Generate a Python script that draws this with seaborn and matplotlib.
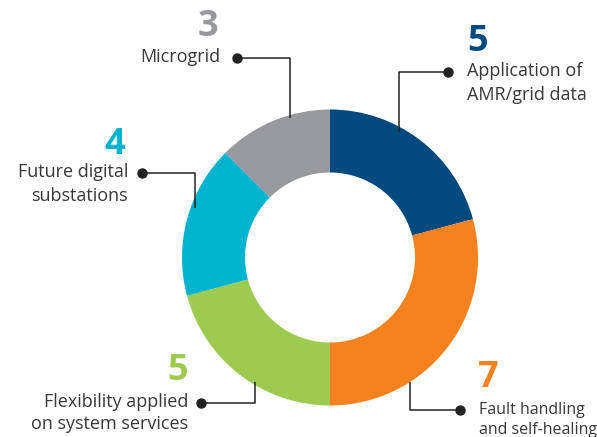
import matplotlib
matplotlib.use("Agg")
import matplotlib.pyplot as plt
import seaborn as sns

sns.set_theme(style="white")
plt.rcParams['font.family'] = ['Open Sans', 'DejaVu Sans']

# data, clockwise from 12 o'clock
labels = ["Application of\nAMR/grid data", "Fault handling\nand self-healing",
          "Flexibility applied\non system services", "Future digital\nsubstations", "Microgrid"]
values = [5, 7, 5, 4, 3]
colors = ["#004a80", "#f5821f", "#9dcb4f", "#00b4d0", "#98999c"]

W, H = 597, 437
fig = plt.figure(figsize=(W / 100, H / 100), dpi=100)
ax = fig.add_axes([0, 0, 1, 1])

def Y(y):
    # picture rows counted from the top
    return H - y

cx, cy, r_out, r_in = 330, 257.5, 148, 85
ax.pie(values, colors=colors, startangle=90, counterclock=False,
       center=(cx, Y(cy)), radius=r_out, frame=True,
       wedgeprops=dict(width=r_out - r_in, linewidth=0))
ax.set_xlim(0, W)
ax.set_ylim(0, H)
ax.set_aspect("equal")
ax.axis("off")

# callouts: dot, elbow x, end y, number pos, text pos, alignment, text size
callouts = [
    dict(dot=(448, 72), elbow=399, end=132, num=(478, 42), txt=(467, 72), ha="left", fs=13, ls=1.4),
    dict(dot=(460, 410), elbow=410, end=382, num=(488, 378), txt=(479, 411), ha="left", fs=11.5, ls=1.3),
    dict(dot=(201, 403), elbow=255, end=382, num=(178, 371), txt=(188, 403), ha="right", fs=13, ls=1.3),
    dict(dot=(142, 173), elbow=195, end=208, num=(115, 145), txt=(128, 173), ha="right", fs=13, ls=1.4),
    dict(dot=(237, 58), elbow=290, end=118, num=(208, 27), txt=(220, 58), ha="right", fs=13, ls=1.4),
]

for lab, val, col, c in zip(labels, values, colors, callouts):
    dx, dy = c["dot"]
    ax.plot([dx, c["elbow"], c["elbow"]], [Y(dy), Y(dy), Y(c["end"])],
            color="#222222", lw=1.1, solid_capstyle="butt", zorder=3)
    ax.plot(dx, Y(dy), "o", color="#222222", ms=6.5, zorder=4)
    nx, ny = c["num"]
    ax.text(nx, Y(ny), str(val), color=col, fontsize=26, fontweight="bold",
            ha="center", va="center")
    tx, ty = c["txt"]
    ax.text(tx, Y(ty) + c["fs"] * 0.77, lab, color="#383838", fontsize=c["fs"], ha=c["ha"],
            va="top", linespacing=c["ls"], multialignment=c["ha"])

fig.savefig("out.png", dpi=100)
